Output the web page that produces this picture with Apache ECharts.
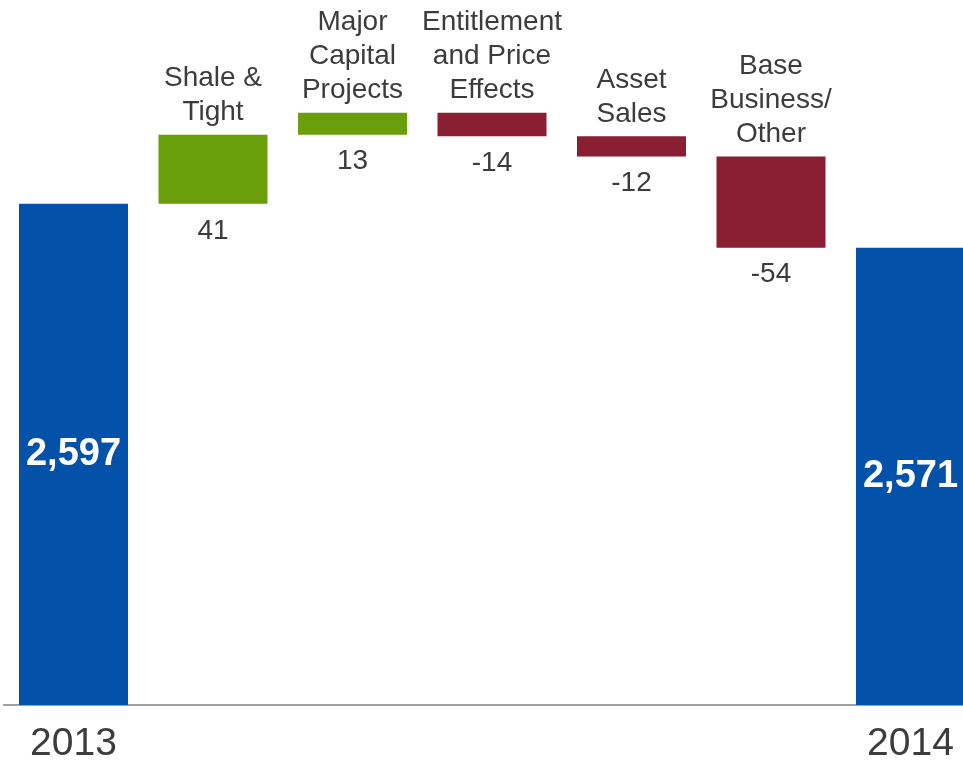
<!DOCTYPE html>
<html>
<head>
<meta charset="utf-8">
<script src="https://cdn.jsdelivr.net/npm/echarts@6/dist/echarts.min.js"></script>
<style>
  html, body { margin: 0; padding: 0; background: #ffffff; overflow: hidden; }
  #chart { width: 981px; height: 764px; }
</style>
</head>
<body>
<div id="chart"></div>
<script>
// Production bridge, 2013 to 2014 (kboe/d)
const categories = ['2013', 'Shale &\nTight', 'Major\nCapital\nProjects', 'Entitlement\nand Price\nEffects', 'Asset\nSales', 'Base\nBusiness/\nOther', '2014'];
const startTotal = 2597;
const endTotal = 2571;
const deltas = [41, 13, -14, -12, -54];

const FONT = '"Liberation Sans", Arial, sans-serif';
const TEXT = '#3c3c3c';
const BLUE = '#0451a9';
const GREEN = '#6a9f0b';
const MAROON = '#8a1f33';

// Build the stacked waterfall: invisible base + visible step
const baseData = [0];
const stepData = [0];
const totalData = [startTotal];
let running = startTotal;
deltas.forEach(function (d) {
  const next = running + d;
  baseData.push(Math.min(running, next));
  stepData.push({
    value: Math.abs(d),
    itemStyle: { color: d >= 0 ? GREEN : MAROON }
  });
  totalData.push('-');
  running = next;
});
baseData.push(0);
stepData.push(0);
totalData.push(endTotal);

const chart = echarts.init(document.getElementById('chart'), null, { renderer: 'canvas' });
chart.setOption({
  animation: false,
  backgroundColor: '#ffffff',
  grid: { left: 3.75, right: 0.75, top: 30, bottom: 58, containLabel: false },
  xAxis: {
    type: 'category',
    data: categories,
    axisLine: { show: true, lineStyle: { color: '#a0a0a0', width: 2 } },
    axisTick: { show: false },
    axisLabel: {
      interval: 0,
      margin: 20,
      fontFamily: FONT,
      fontSize: 39,
      color: TEXT,
      formatter: function (v, idx) {
        return (idx === 0 || idx === categories.length - 1) ? v : '';
      }
    }
  },
  yAxis: {
    type: 'value',
    min: 2300,
    max: 2700,
    show: false,
    splitLine: { show: false }
  },
  series: [
    {
      name: 'base',
      type: 'bar',
      stack: 'wf',
      barWidth: 109,
      data: baseData,
      itemStyle: { color: 'transparent' },
      label: {
        show: true,
        position: 'insideTop',
        distance: 13,
        fontFamily: FONT,
        fontSize: 28,
        lineHeight: 28,
        color: TEXT,
        formatter: function (p) {
          const d = deltas[p.dataIndex - 1];
          return d === undefined ? '' : String(d);
        }
      },
      silent: true
    },
    {
      name: 'step',
      type: 'bar',
      stack: 'wf',
      barWidth: 109,
      data: stepData,
      label: {
        show: true,
        position: 'top',
        distance: 5,
        fontFamily: FONT,
        fontSize: 28,
        lineHeight: 34,
        color: TEXT,
        align: 'center',
        formatter: function (p) {
          return (p.dataIndex === 0 || p.dataIndex === categories.length - 1) ? '' : categories[p.dataIndex];
        }
      }
    },
    {
      name: 'total',
      type: 'bar',
      barWidth: 109,
      barGap: '-100%',
      data: totalData,
      itemStyle: { color: BLUE },
      label: {
        show: true,
        position: 'inside',
        fontFamily: FONT,
        fontSize: 38,
        fontWeight: 'bold',
        color: '#ffffff',
        formatter: function (p) { return p.value.toLocaleString('en-US'); }
      }
    }
  ]
});
</script>
</body>
</html>
